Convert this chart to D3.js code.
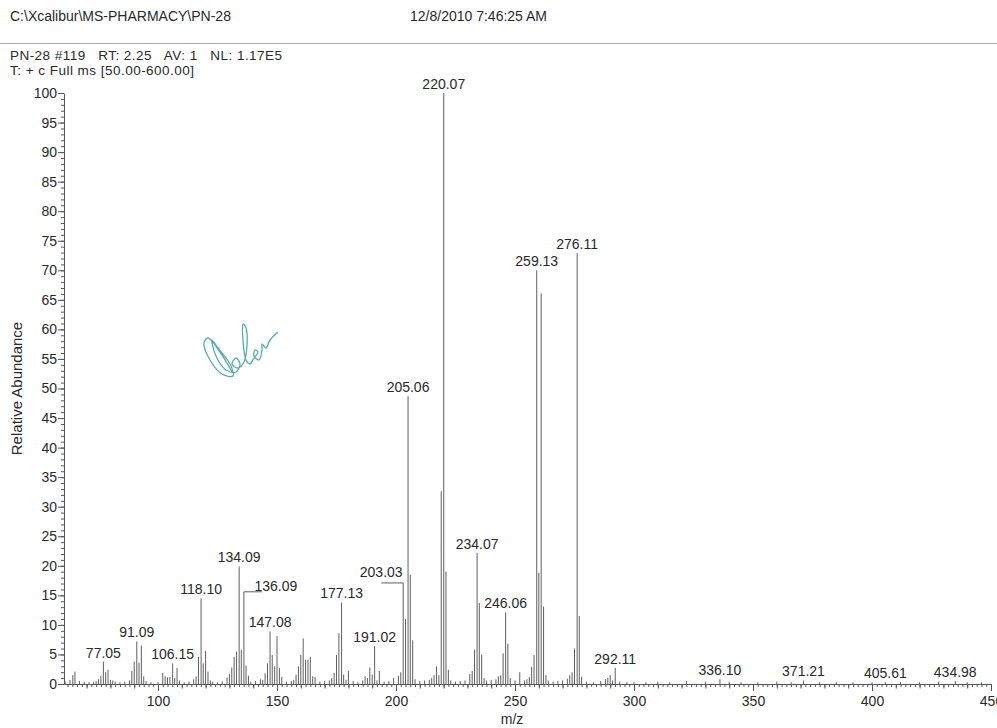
<!DOCTYPE html>
<html>
<head>
<meta charset="utf-8">
<script src="https://cdn.jsdelivr.net/npm/d3@7"></script>
<style>
  html, body { margin: 0; padding: 0; background: #ffffff; }
  svg { display: block; font-family: "Liberation Sans", Arial, sans-serif; }
</style>
</head>
<body>
<svg id="chart" width="997" height="728"></svg>
<script>
// ---------- data ----------
const headerPath = "C:\\Xcalibur\\MS-PHARMACY\\PN-28";
const headerDate = "12/8/2010 7:46:25 AM";
const scanInfo = "PN-28 #119   RT: 2.25   AV: 1   NL: 1.17E5";
const filterInfo = "T: + c Full ms [50.00-600.00]";
const xTitle = "m/z";
const yTitle = "Relative Abundance";

const mzValues = [
  61, 63, 64.2, 65.1, 67, 69, 71, 73, 74, 75, 76, 77.05, 78, 79, 80, 81, 82, 84, 86, 88,
  89, 90, 91.09, 92, 93, 94, 95, 97, 100, 102, 103, 104, 105, 106.15, 107, 108, 109, 111, 113, 115,
  116, 117, 118.10, 119, 120, 121, 122, 123, 125, 127, 129, 130, 131, 132, 133, 134.09, 135, 136.09, 137, 138,
  139, 141, 143, 144, 145, 146, 147.08, 148, 149, 150, 151, 152, 154, 156, 157, 158, 159, 160, 161, 162,
  163, 164, 165, 166, 168, 170, 172, 173, 174, 175, 176, 177.13, 178, 179, 180, 182, 184, 186, 187, 188,
  189, 190, 191.02, 192, 193, 195, 197, 199, 201, 202, 203.03, 204, 205.06, 206, 207, 208, 210, 212, 214, 215,
  216, 217, 218, 219, 220.07, 221, 222, 223, 225, 227, 229, 231, 232, 233, 234.07, 235, 236, 237, 238, 240,
  242, 243, 244, 245, 246.06, 247, 248, 250, 252, 254, 255, 256, 257, 258, 259.13, 260, 261, 262, 263, 264,
  266, 268, 270, 272, 273, 274, 275, 276.11, 277, 278, 280, 283, 286, 288, 289, 290, 291, 292.11, 294, 297,
  300, 305, 310, 315, 322, 330, 336.10, 340, 345, 352, 360, 366, 371.21, 378, 385, 392, 400, 405.61, 412, 420,
  428, 434.98, 440, 446
];
const abundances = [
  0.4, 0.7, 1.5, 2.1, 0.5, 0.4, 0.3, 0.4, 0.5, 0.8, 1.4, 3.8, 2.0, 2.4, 0.7, 0.6, 0.4, 0.3, 0.4, 0.6,
  2.2, 3.8, 7.2, 3.6, 6.5, 1.3, 0.5, 0.3, 0.3, 1.9, 1.3, 1.1, 1.2, 3.5, 1.0, 2.7, 0.6, 0.3, 0.4, 0.8,
  1.3, 4.6, 14.5, 3.5, 5.6, 2.1, 0.6, 0.4, 0.3, 0.4, 1.1, 1.7, 2.8, 4.6, 5.5, 19.9, 5.8, 15.6, 3.1, 1.4,
  0.4, 0.5, 0.8, 0.7, 1.8, 3.5, 8.9, 4.9, 3.0, 8.1, 2.7, 1.2, 0.4, 0.5, 0.7, 1.6, 3.0, 4.9, 7.7, 4.1,
  4.1, 4.6, 1.3, 1.2, 0.4, 0.5, 0.6, 1.0, 1.9, 4.9, 8.6, 13.8, 1.6, 0.7, 2.2, 0.5, 0.3, 0.6, 1.3, 1.0,
  2.8, 1.6, 6.4, 0.6, 2.2, 0.4, 0.5, 1.0, 1.4, 2.0, 17.1, 11.0, 48.7, 18.5, 7.4, 0.8, 0.5, 0.6, 0.7, 1.0,
  1.5, 3.0, 1.5, 32.6, 100, 19.0, 2.4, 0.6, 0.4, 0.5, 0.6, 1.7, 2.2, 5.8, 22.2, 13.7, 5.0, 1.0, 0.6, 0.7,
  0.8, 1.3, 1.5, 5.2, 12.1, 6.8, 1.0, 0.6, 2.0, 0.6, 0.8, 1.2, 2.9, 4.9, 70.0, 18.8, 66.1, 13.1, 1.5, 0.6,
  0.4, 0.5, 0.6, 0.9, 1.5, 2.0, 6.0, 72.9, 11.5, 1.2, 0.4, 0.3, 0.5, 0.8, 1.0, 1.5, 0.6, 2.7, 0.4, 0.3,
  0.3, 0.3, 0.4, 0.3, 0.5, 0.4, 0.8, 0.4, 0.3, 0.3, 0.4, 0.3, 0.6, 0.3, 0.3, 0.3, 0.3, 0.3, 0.3, 0.3,
  0.4, 0.5, 0.3, 0.3
];
const labelledPeaks = [
  "77.05", "91.09", "106.15", "118.10", "134.09", "136.09", "147.08", "177.13", "191.02", "203.03",
  "205.06", "220.07", "234.07", "246.06", "259.13", "276.11", "292.11", "336.10", "371.21", "405.61", "434.98"
];
const yTickValues = [0, 5, 10, 15, 20, 25, 30, 35, 40, 45, 50, 55, 60, 65, 70, 75, 80, 85, 90, 95, 100];
const xTickValues = [100, 150, 200, 250, 300, 350, 400, 450];
const xDomain = [60.5, 450];

// ---------- layout / style ----------
const svg = d3.select("#chart");
const plotLeft = 64, plotRight = 991, plotTop = 93, plotBottom = 684;
const ink = "#2a2a2a", axisCol = "#555", peakCol = "#5f5f5f";

// label offsets where the software moved a label aside (with a leader line)
const labelShift = { "136.09": { dx: 32, leaderTo: 18, dy: -1 }, "203.03": { dx: -22, leaderTo: -22, dy: -6 } };

const x = d3.scaleLinear().domain(xDomain).range([plotLeft, plotRight]);
const y = d3.scaleLinear().domain([0, 100]).range([plotBottom, plotTop]);

const peaks = mzValues.map((m, i) => ({ mz: m, ab: abundances[i] }));

// header
svg.append("text").attr("x", 10).attr("y", 21).attr("font-size", 14).attr("fill", ink).text(headerPath);
svg.append("text").attr("x", 410).attr("y", 21).attr("font-size", 14).attr("fill", ink).text(headerDate);
svg.append("line").attr("x1", 0).attr("x2", 997).attr("y1", 43.5).attr("y2", 43.5)
  .attr("stroke", "#aaa").attr("stroke-width", 1);
svg.append("text").attr("x", 10).attr("y", 60).attr("font-size", 13.5).attr("fill", ink)
  .attr("xml:space", "preserve").style("white-space", "pre")
  .attr("textLength", 272).attr("lengthAdjust", "spacing").text(scanInfo);
svg.append("text").attr("x", 10).attr("y", 75).attr("font-size", 13.5).attr("fill", ink)
  .attr("textLength", 184).attr("lengthAdjust", "spacing").text(filterInfo);

// signature scribble (decorative ink)
const sig = [[232,372],[220,352],[208,338],[204,343],[210,360],[222,374],[233,376],[230,364],[218,348],[212,340],
  [216,356],[226,370],[236,372],[240,364],[236,358],[232,364],[238,368],[244,362],[247,345],[246,328],
  [243,324],[243,340],[246,360],[250,364],[254,358],[258,352],[255,350],[254,356],[259,360],[262,350],
  [262,344],[266,348],[270,340],[278,332]];
svg.append("path").attr("d", d3.line().curve(d3.curveCatmullRom)(sig))
  .attr("fill", "none").attr("stroke", "#3a9e9c").attr("stroke-width", 1.3).attr("opacity", 0.85);

// minor ticks
svg.append("g").attr("transform", `translate(${plotLeft},0)`)
  .call(d3.axisLeft(y).tickValues(d3.range(0, 101, 1)).tickSize(3).tickFormat(""))
  .call(g => g.select(".domain").remove())
  .call(g => g.selectAll("line").attr("stroke", axisCol));
svg.append("g").attr("transform", `translate(0,${plotBottom})`)
  .call(d3.axisBottom(x).tickValues(d3.range(62, 451, 2)).tickSize(3).tickFormat(""))
  .call(g => g.select(".domain").remove())
  .call(g => g.selectAll("line").attr("stroke", axisCol));
svg.append("g").attr("transform", `translate(0,${plotBottom})`)
  .call(d3.axisBottom(x).tickValues(d3.range(70, 451, 10)).tickSize(4.5).tickFormat(""))
  .call(g => g.select(".domain").remove())
  .call(g => g.selectAll("line").attr("stroke", axisCol));

// major axes
svg.append("g").attr("transform", `translate(${plotLeft},0)`)
  .call(d3.axisLeft(y).tickValues(yTickValues).tickSize(6).tickSizeOuter(0).tickPadding(1))
  .call(g => g.select(".domain").attr("stroke", axisCol))
  .call(g => g.selectAll("line").attr("stroke", axisCol))
  .call(g => g.selectAll("text").attr("font-size", 14).attr("fill", ink)
    .attr("font-family", "Liberation Sans, Arial, sans-serif"));
svg.append("g").attr("transform", `translate(0,${plotBottom})`)
  .call(d3.axisBottom(x).tickValues(xTickValues).tickSize(7).tickSizeOuter(0).tickPadding(5))
  .call(g => g.select(".domain").attr("stroke", axisCol))
  .call(g => g.selectAll("line").attr("stroke", axisCol))
  .call(g => g.selectAll("text").attr("font-size", 14).attr("fill", ink)
    .attr("font-family", "Liberation Sans, Arial, sans-serif"));

// axis titles
svg.append("text").attr("x", 512).attr("y", 724).attr("text-anchor", "middle")
  .attr("font-size", 14).attr("fill", ink).text(xTitle);
svg.append("text").attr("transform", `translate(22,${(plotTop + plotBottom) / 2}) rotate(-90)`)
  .attr("text-anchor", "middle").attr("font-size", 15).attr("fill", ink).text(yTitle);

// peaks (stick spectrum)
svg.append("g").selectAll("line").data(peaks).join("line")
  .attr("x1", d => x(d.mz)).attr("x2", d => x(d.mz))
  .attr("y1", y(0)).attr("y2", d => y(d.ab))
  .attr("stroke", peakCol).attr("stroke-width", 1);

// peak labels
const labelG = svg.append("g");
labelledPeaks.forEach(lbl => {
  const m = +lbl;
  const p = peaks.find(d => Math.abs(d.mz - m) < 1e-6);
  if (!p) return;
  const px = x(p.mz), py = y(p.ab);
  const s = labelShift[lbl];
  if (s) {
    labelG.append("line").attr("x1", px).attr("x2", px + s.leaderTo)
      .attr("y1", py).attr("y2", py).attr("stroke", peakCol).attr("stroke-width", 1);
    labelG.append("text").attr("x", px + s.dx).attr("y", py + s.dy).attr("text-anchor", "middle")
      .attr("font-size", 14).attr("fill", ink).text(lbl);
  } else {
    labelG.append("text").attr("x", px).attr("y", py - 4).attr("text-anchor", "middle")
      .attr("font-size", 14).attr("fill", ink).text(lbl);
  }
});
</script>
</body>
</html>
